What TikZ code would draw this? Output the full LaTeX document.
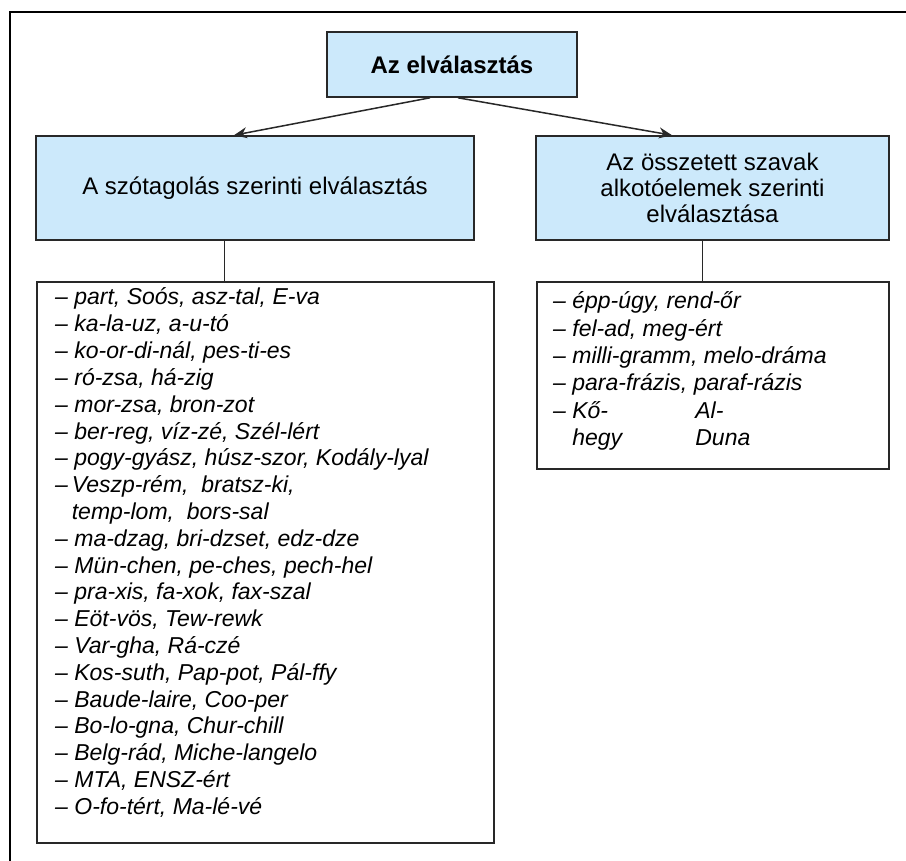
\documentclass[tikz,border=0pt]{standalone}
\usepackage{fontspec}
\setmainfont{Liberation Sans}
\usetikzlibrary{arrows.meta,calc}
\definecolor{boxblue}{RGB}{204,233,251}
\definecolor{edge}{RGB}{40,40,40}
\begin{document}
\begin{tikzpicture}[x=1pt,y=-1pt,
  titlebox/.style={draw=edge,line width=1.6pt,fill=boxblue,inner sep=0pt,
    font=\fontsize{24}{26}\selectfont,align=center},
  listbox/.style={draw=edge,line width=1.6pt,fill=white,inner sep=0pt},
  listtext/.style={anchor=base west,inner sep=0pt,
    font=\fontsize{23}{26.8}\selectfont\itshape},
  arr/.style={line width=1.5pt,draw=edge,-{Stealth[length=13pt,width=11pt]}},
  link/.style={line width=1pt,draw=edge}]
\useasboundingbox (0,0) rectangle (906,861);
\fill[white] (0,0) rectangle (906,861);
% page frame (cropped at right and bottom)
\draw[line width=2.2pt,black] (906,12) -- (10,12) -- (10,861);

% heading boxes
\node[titlebox,minimum width=250pt,minimum height=65pt] (top) at (452,64.5)
  {\bfseries Az elválasztás};
\node[titlebox,minimum width=438pt,minimum height=104pt] (left) at (255,188)
  {A szótagolás szerinti elválasztás};
\node[titlebox,minimum width=353pt,minimum height=104pt] (right) at (712.5,188)
  {Az összetett szavak\\alkotóelemek szerinti\\elválasztása};

% list boxes
\node[listbox,minimum width=457pt,minimum height=561pt] (llist) at (265.5,562.5) {};
\node[listbox,minimum width=352pt,minimum height=187pt] (rlist) at (713,375.5) {};

% arrows from the main heading
\draw[arr] ($(top.south)+(-22,0)$) -- ($(left.north)+(-21,0)$);
\draw[arr] ($(top.south)+(6,0)$) -- ($(right.north)+(-40.5,0)$);

% links from headings to their lists
\coordinate (llink) at (224,0);
\coordinate (rlink) at (702,0);
\draw[link] (left.south -| llink) -- (llist.north -| llink);
\draw[link] (right.south -| rlink) -- (rlist.north -| rlink);

% left list
\foreach \t [count=\i] in {
  {– part, Soós, asz-tal, E-va},
  {– ka-la-uz, a-u-tó},
  {– ko-or-di-nál, pes-ti-es},
  {– ró-zsa, há-zig},
  {– mor-zsa, bron-zot},
  {– ber-reg, víz-zé, Szél-lért},
  {– pogy-gyász, húsz-szor, Kodály-lyal},
  {–\,Veszp-rém,\ \ bratsz-ki,},
  {\phantom{–\,}temp-lom,\ \ bors-sal},
  {– ma-dzag, bri-dzset, edz-dze},
  {– Mün-chen, pe-ches, pech-hel},
  {– pra-xis, fa-xok, fax-szal},
  {– Eöt-vös, Tew-rewk},
  {– Var-gha, Rá-czé},
  {– Kos-suth, Pap-pot, Pál-ffy},
  {– Baude-laire, Coo-per},
  {– Bo-lo-gna, Chur-chill},
  {– Belg-rád, Miche-langelo},
  {– MTA, ENSZ-ért},
  {– O-fo-tért, Ma-lé-vé}}
  \node[listtext] (la\i) at (55,{305+26.8*(\i-1)}) {\t};

% right list
\foreach \t [count=\i] in {
  {– épp-úgy, rend-őr},
  {– fel-ad, meg-ért},
  {– milli-gramm, melo-dráma},
  {– para-frázis, paraf-rázis},
  {– \makebox[123pt][l]{Kő-}Al-},
  {\phantom{– }\makebox[123pt][l]{hegy}Duna}}
  \node[listtext] (ra\i) at (553,{309+27.3*(\i-1)}) {\t};
\end{tikzpicture}
\end{document}
